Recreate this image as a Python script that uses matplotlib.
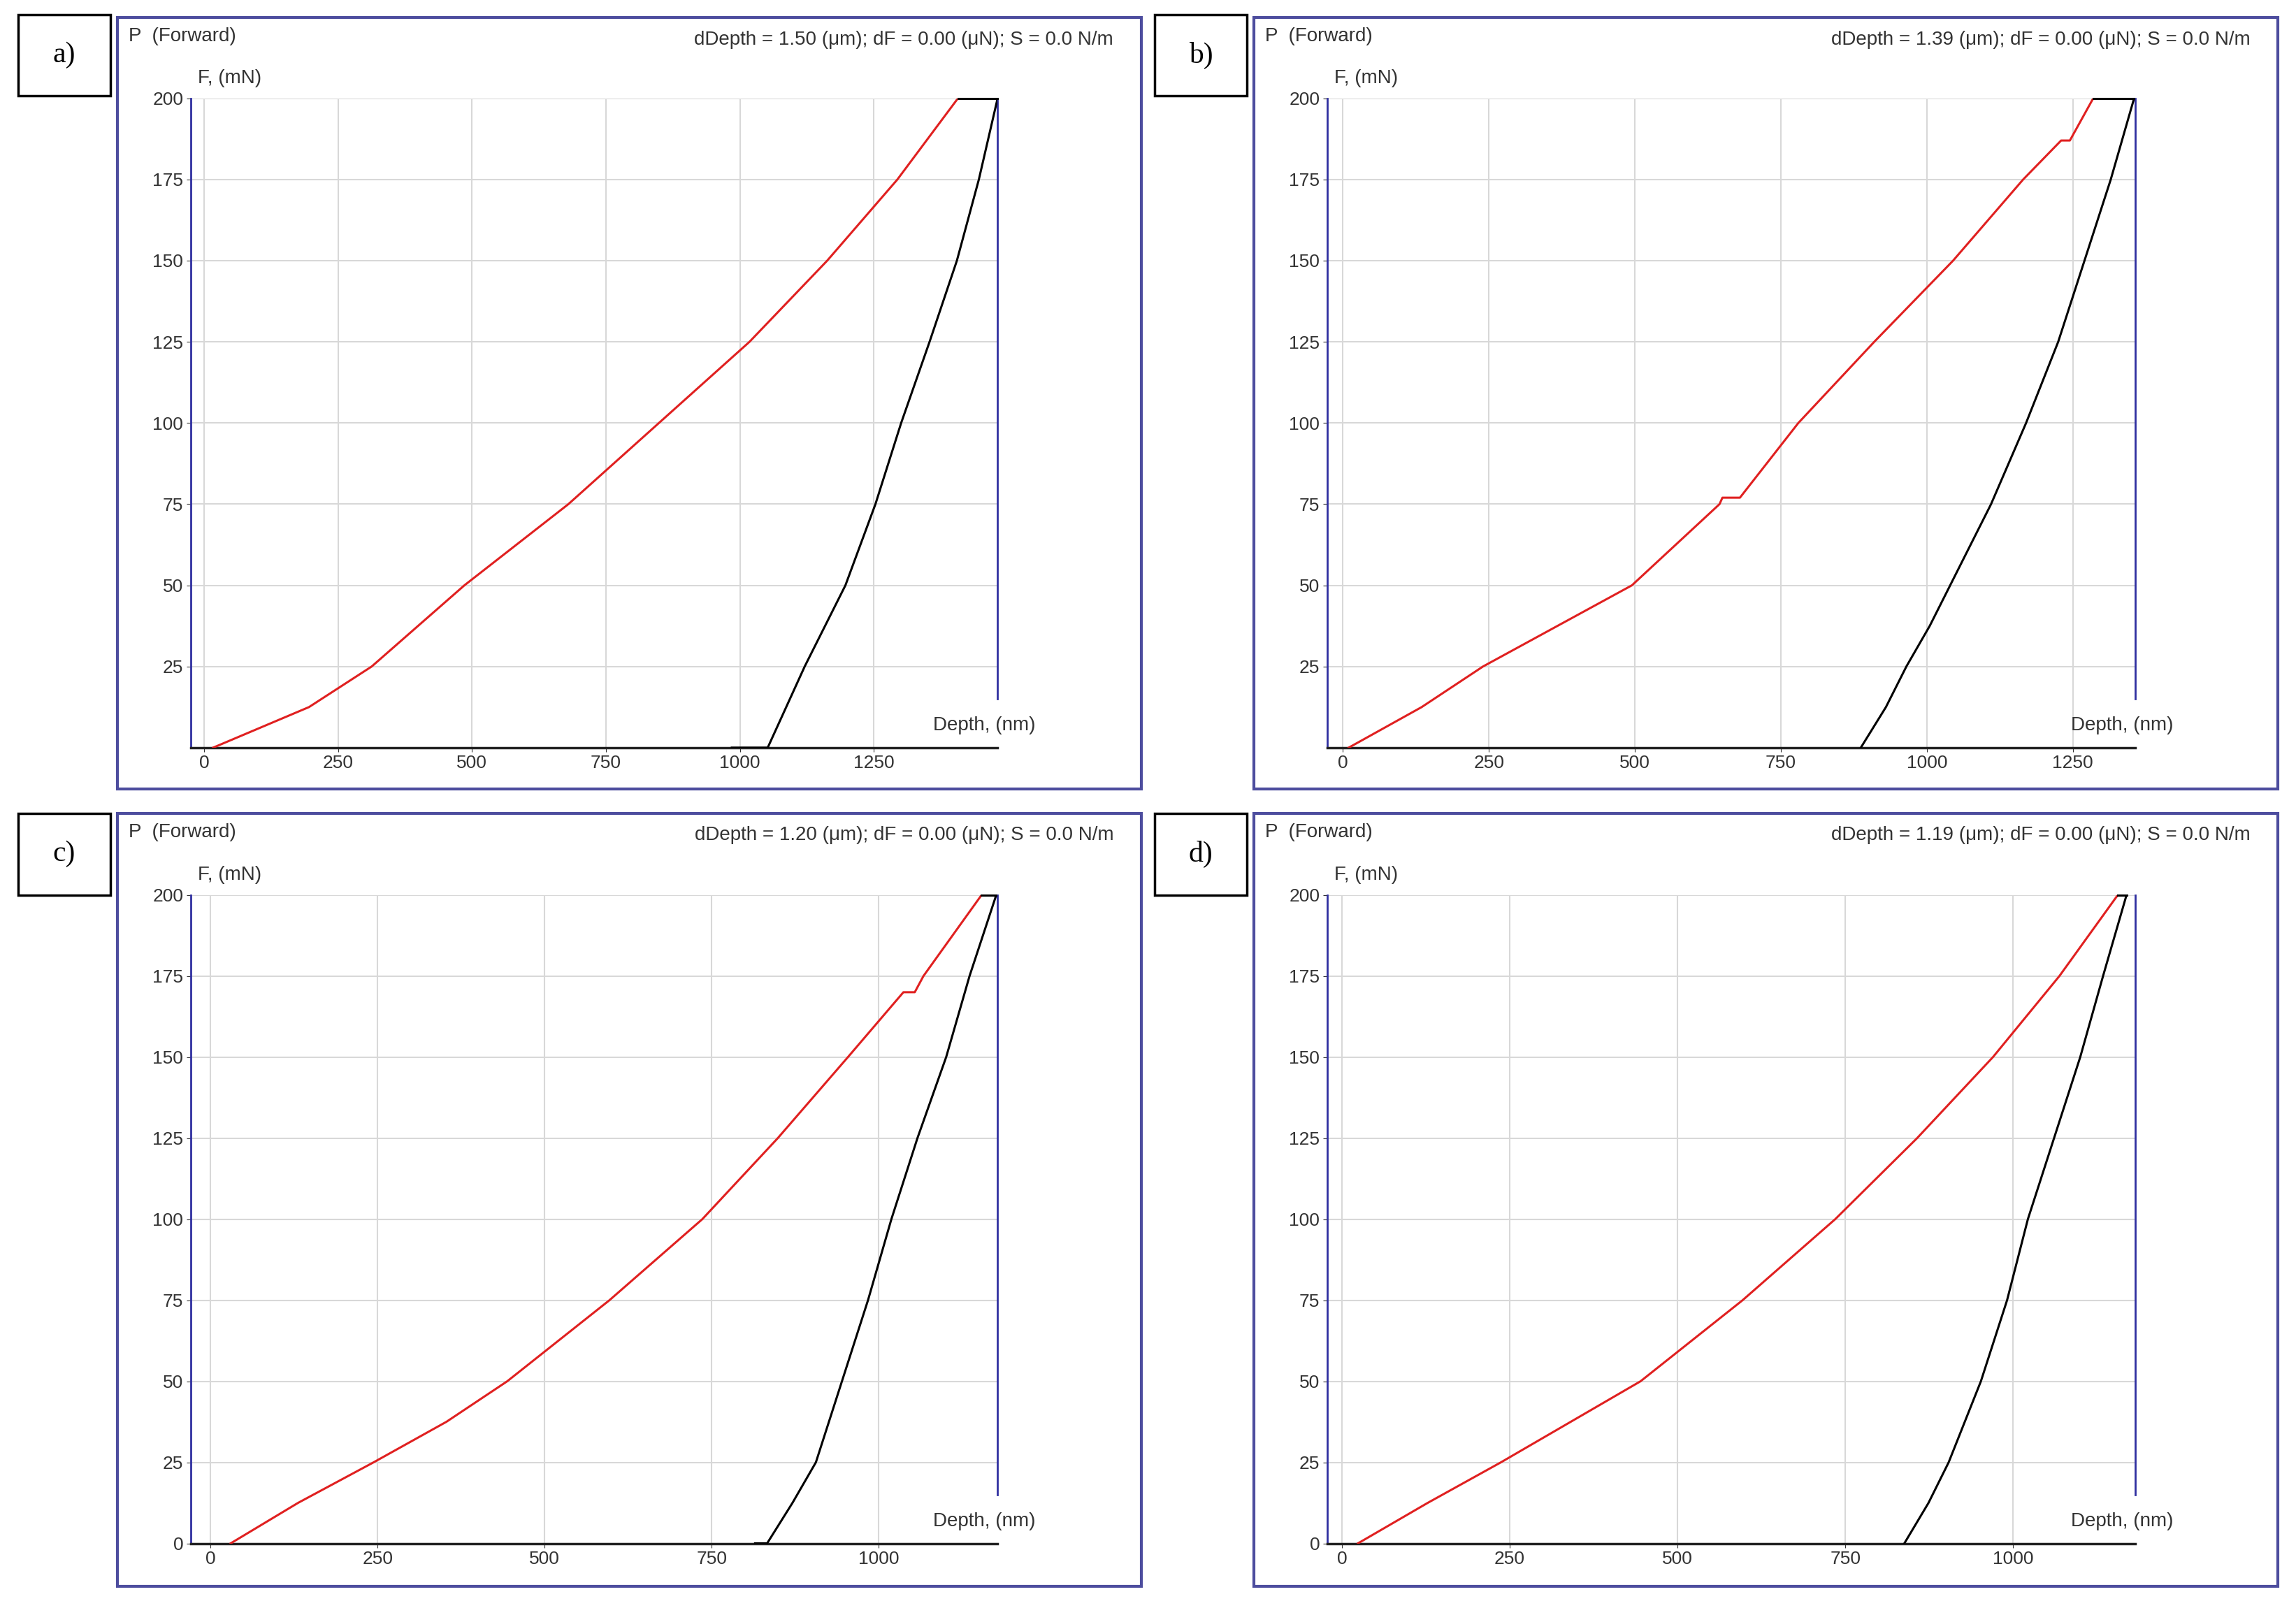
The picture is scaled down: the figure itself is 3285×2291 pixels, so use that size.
import matplotlib
matplotlib.use("Agg")
import matplotlib.pyplot as plt
from matplotlib.patches import Rectangle

plt.rcParams['font.family'] = ['Liberation Sans', 'DejaVu Sans']

labels = ["a)", "b)", "c)", "d)"]
headers = ["dDepth = 1.50 (\u03bcm); dF = 0.00 (\u03bcN); S = 0.0 N/m",
           "dDepth = 1.39 (\u03bcm); dF = 0.00 (\u03bcN); S = 0.0 N/m",
           "dDepth = 1.20 (\u03bcm); dF = 0.00 (\u03bcN); S = 0.0 N/m",
           "dDepth = 1.19 (\u03bcm); dF = 0.00 (\u03bcN); S = 0.0 N/m"]
xlims = [(-25, 1481), (-27, 1357), (-30, 1178), (-22, 1182)]
xticks = [[0, 250, 500, 750, 1000, 1250], [0, 250, 500, 750, 1000, 1250],
          [0, 250, 500, 750, 1000], [0, 250, 500, 750, 1000]]
yticks_ab = [25, 50, 75, 100, 125, 150, 175, 200]
yticks_cd = [0, 25, 50, 75, 100, 125, 150, 175, 200]

# loading curves (red)
load_F_a = [0, 12.5, 25, 50, 75, 100, 125, 150, 175, 200]
load_x_a = [17, 196, 313, 486, 680, 849, 1018, 1163, 1294, 1407]
load_F_b = [0, 12.5, 25, 50, 75, 77, 77, 100, 125, 150, 175, 187, 187, 200]
load_x_b = [10, 135, 240, 495, 645, 650, 680, 780, 910, 1045, 1165, 1230, 1245, 1285]
load_F_c = [0, 12.5, 25, 37.5, 50, 75, 100, 125, 150, 170, 170, 175, 200]
load_x_c = [30, 131, 244, 353, 444, 597, 736, 849, 954, 1037, 1054, 1067, 1154]
load_F_d = [0, 12.5, 25, 50, 75, 100, 125, 150, 175, 200]
load_x_d = [24, 128, 237, 445, 597, 735, 857, 970, 1069, 1156]

# unloading curves (black)
unload_F_a = [0, 0, 25, 50, 75, 100, 125, 150, 175, 200]
unload_x_a = [985, 1052, 1121, 1197, 1253, 1301, 1354, 1405, 1446, 1481]
unload_F_b = [0, 12.5, 25, 37.5, 50, 75, 100, 125, 150, 175, 200]
unload_x_b = [887, 930, 965, 1005, 1040, 1110, 1170, 1225, 1270, 1315, 1355]
unload_F_c = [0, 0, 12.5, 25, 50, 75, 100, 125, 150, 175, 200]
unload_x_c = [815, 833, 871, 906, 945, 984, 1019, 1058, 1101, 1136, 1176]
unload_F_d = [0, 12.5, 25, 50, 75, 100, 125, 150, 175, 200]
unload_x_d = [838, 874, 904, 952, 991, 1022, 1061, 1100, 1134, 1169]

loads = [(load_x_a, load_F_a), (load_x_b, load_F_b), (load_x_c, load_F_c), (load_x_d, load_F_d)]
unloads = [(unload_x_a, unload_F_a), (unload_x_b, unload_F_b),
           (unload_x_c, unload_F_c), (unload_x_d, unload_F_d)]

fig = plt.figure(figsize=(32.85, 22.91), dpi=100)
frame_col = '#4d4d9e'
col_x = [(0.051, 0.497, 0.083, 0.4345, 0.008), (0.546, 0.992, 0.578, 0.930, 0.503)]
row_y = [(0.507, 0.989, 0.533, 0.9386, 0.940), (0.009, 0.492, 0.036, 0.441, 0.441)]

for i in range(4):
    fx0, fx1, ax0, ax1, lx = col_x[i % 2]
    fy0, fy1, ay0, ay1, ly = row_y[i // 2]
    fig.add_artist(Rectangle((fx0, fy0), fx1 - fx0, fy1 - fy0, transform=fig.transFigure,
                             fill=False, edgecolor=frame_col, lw=3))
    fig.add_artist(Rectangle((lx, ly), 0.040, 0.051, transform=fig.transFigure,
                             fill=False, edgecolor='black', lw=2.5))
    fig.text(lx + 0.020, ly + 0.0255, labels[i], family='Liberation Serif', fontsize=30,
             ha='center', va='center')
    fig.text(fx0 + 0.005, fy1 - 0.006, "P  (Forward)", fontsize=20, va='top', color='#333333')
    fig.text(ax0 + 0.003, ay1 + 0.007, "F, (mN)", fontsize=20, va='bottom', color='#333333')
    fig.text(fx1 - 0.012, fy1 - 0.008, headers[i], fontsize=20, va='top', ha='right', color='#333333')

    ax = fig.add_axes([ax0, ay0, ax1 - ax0, ay1 - ay0])
    ax.set_xlim(*xlims[i])
    ax.set_ylim(0, 200)
    ax.set_xticks(xticks[i])
    ax.set_yticks(yticks_ab if i < 2 else yticks_cd)
    ax.grid(True, color='#d8d8d8', lw=1.5)
    ax.set_axisbelow(True)
    for s in ['top', 'right']:
        ax.spines[s].set_visible(False)
    ax.spines['left'].set_color('#3030a0')
    ax.spines['left'].set_linewidth(2)
    ax.spines['bottom'].set_color('#222222')
    ax.spines['bottom'].set_linewidth(2.5)
    ax.plot([1, 1], [0.075, 1], transform=ax.transAxes, color='#3030a0', lw=2, clip_on=False)
    ax.tick_params(labelsize=19, colors='#333333', length=4)
    ax.text(0.92, 0.02, "Depth, (nm)", transform=ax.transAxes, fontsize=20,
            color='#333333', va='bottom', ha='left', clip_on=False)
    lx_, lF_ = loads[i]
    ux_, uF_ = unloads[i]
    ax.plot(lx_, lF_, color='#e02020', lw=2.2, zorder=3)
    ax.plot(ux_, uF_, color='black', lw=2.2, zorder=3)
    ax.plot([lx_[-1], ux_[-1]], [200, 200], color='black', lw=2.2, zorder=3, clip_on=False)

fig.savefig("out.png", dpi=100, facecolor='white')
